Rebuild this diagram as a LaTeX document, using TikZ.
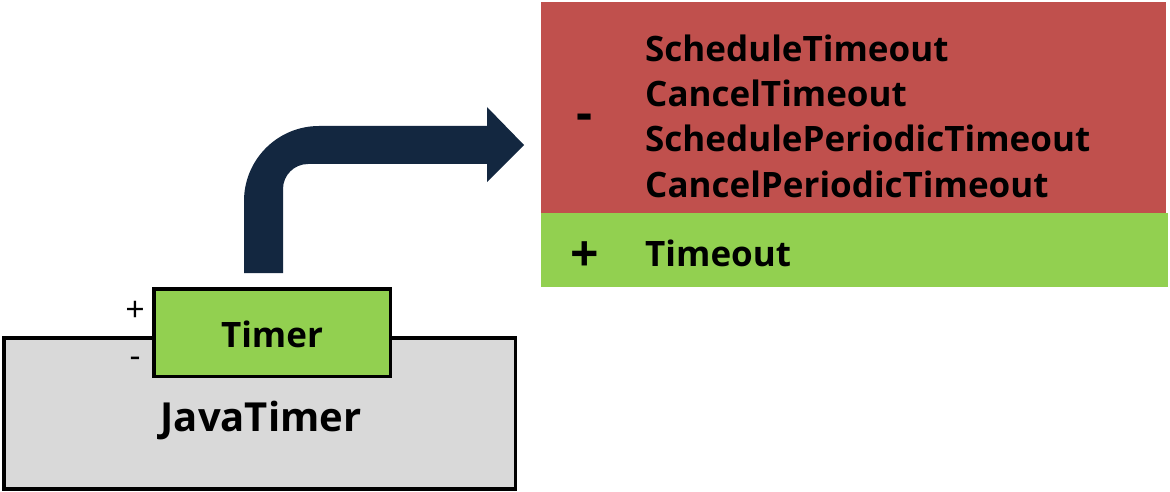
\documentclass[tikz,border=0pt]{standalone}
\usepackage{fontspec}
\setmainfont{Open Sans}
\usetikzlibrary{shadows}
\definecolor{navy}{RGB}{19,39,64}
\definecolor{pgray}{RGB}{217,217,217}
\definecolor{pgreen}{RGB}{146,208,80}
\definecolor{pred}{RGB}{192,80,77}
\tikzset{
  box/.style={draw=black, line width=3.5pt, inner sep=0pt},
  bigtxt/.style={font=\fontsize{40}{48}\selectfont\bfseries, anchor=base, inner sep=0pt},
  midtxt/.style={font=\fontsize{35}{40}\selectfont\bfseries, anchor=base west, inner sep=0pt},
  sign/.style={font=\fontsize{34}{36}\selectfont, inner sep=0pt},
  bigsign/.style={font=\fontsize{50}{54}\selectfont\bfseries, inner sep=0pt},
  band/.style={inner sep=0pt, draw=none}
}
\def\arrowpath{(244,273) -- (244,201) arc[start angle=180, end angle=270, radius=75]
  -- (487,126) -- (487,107) -- (524,145) -- (487,182) -- (487,164)
  -- (308,164) arc[start angle=270, end angle=180, radius=25]
  -- (283,273) -- cycle}
\begin{document}
\begin{tikzpicture}[x=1pt,y=-1pt]
\useasboundingbox (0,0) rectangle (1170,492);
% JavaTimer component
\node[box, fill=pgray, minimum width=511.5pt, minimum height=151pt] (java) at (259.5,413.5) {};
\node[bigtxt] (javalbl) at (261,431) {JavaTimer};
% Timer interface
\node[box, fill=pgreen, minimum width=236.5pt, minimum height=87.5pt] (timer) at (272,332.5) {};
\node[font=\fontsize{35}{40}\selectfont\bfseries, anchor=base, inner sep=0pt] (timerlbl) at (272,347) {Timer};
\node[sign] (plus) at (135,311) {+};
\node[sign] (minus) at (135,362) {-};
% panel
\node[band, fill=pred, minimum width=625pt, minimum height=211pt] (red) at (853.5,107.5) {};
\node[band, fill=pgreen, minimum width=627pt, minimum height=74pt] (green) at (854.5,250) {};
\node[bigsign] (rminus) at (585,122) {-};
\node[bigsign] (gplus) at (585,257) {+};
\node[midtxt] (m1) at (645,62) {ScheduleTimeout};
\node[midtxt] (m2) at (645,107) {CancelTimeout};
\node[midtxt] (m3) at (645,152) {SchedulePeriodicTimeout};
\node[midtxt] (m4) at (645,197) {CancelPeriodicTimeout};
\node[midtxt] (t1) at (645,266) {Timeout};
% bent arrow: white rim with soft shadow, then navy body
\draw[draw=white, fill=white, line width=10pt, line join=round,
      drop shadow={opacity=0.2, shadow xshift=1pt, shadow yshift=-2pt}] \arrowpath;
\fill[navy] \arrowpath;
\end{tikzpicture}
\end{document}
